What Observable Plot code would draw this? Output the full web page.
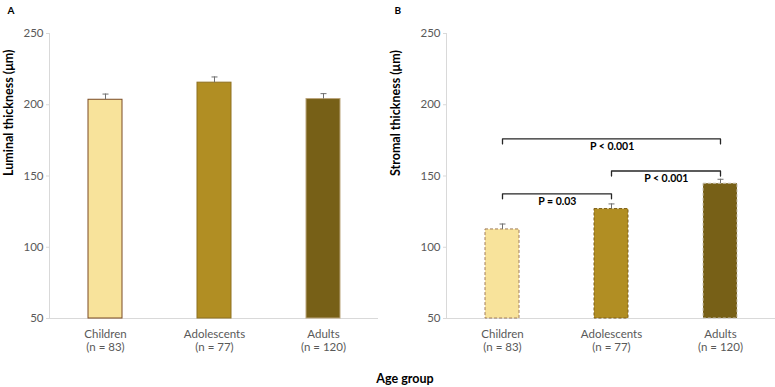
<!DOCTYPE html>
<html>
<head>
<meta charset="utf-8">
<script src="https://cdn.jsdelivr.net/npm/d3@7"></script>
<script src="https://cdn.jsdelivr.net/npm/@observablehq/plot@0.6"></script>
<style>
  body { margin: 0; background: #fff; font-family: Lato, "Open Sans", sans-serif; }
  #wrap { position: relative; width: 775px; height: 387px; }
  #left { position: absolute; left: 0; top: 0; }
  #right { position: absolute; left: 387px; top: 0; }
  #xtitle { position: absolute; left: 0; width: 810px; top: 371px; text-align: center;
            font-weight: bold; font-size: 12.5px; color: #000; }
</style>
</head>
<body>
<div id="wrap">
  <div id="left"></div>
  <div id="right"></div>
  <div id="xtitle">Age group</div>
</div>
<script>
// Age groups and sample sizes
const groups = ["Children", "Adolescents", "Adults"];
const counts = [83, 77, 120];

// Mean thickness (µm) and standard error per group
const luminalMean = [203.5, 215.5, 204];
const luminalSE = [4, 4, 3.8];
const stromalMean = [112.5, 126.8, 144.6];
const stromalSE = [3.8, 3.6, 3.1];

// Y axis ticks
const yTicks = [50, 100, 150, 200, 250];

// Pairwise comparisons for stromal thickness
const compFrom = ["Children", "Adolescents", "Children"];
const compTo = ["Adolescents", "Adults", "Adults"];
const compLevel = [137.5, 153.5, 176];
const compLabel = ["P = 0.03", "P < 0.001", "P < 0.001"];

// Palette
const fills = ["#F8E39B", "#B18E23", "#776017"];
const solidStrokes = ["#7A4B25", "#8E7020", "#BBA57C"];
const dashedStrokes = ["#A07C5C", "#7D5F1A", "#C9C2B4"];

const yMin = yTicks[0], yMax = yTicks[yTicks.length - 1];
const tickText = (g) => `${g}\n(n = ${counts[groups.indexOf(g)]})`;

// Small horizontal cap for the error bars
const capSymbol = {
  draw(ctx, size) {
    const w = Math.sqrt(size / Math.PI);
    ctx.moveTo(-w, 0);
    ctx.lineTo(w, 0);
  }
};

function panel({width, marginLeft, marginRight, means, ses, letter, yLabel, strokes, dashed, withComparisons}) {
  const rows = groups.map((g, i) => ({group: g, mean: means[i], top: means[i] + ses[i], fill: fills[i], stroke: strokes[i]}));
  const step = (width - marginLeft - marginRight) / groups.length;
  const marks = [
    Plot.ruleY([yMin], {stroke: "#D9D9D9", strokeWidth: 1}),
    Plot.frame({anchor: "left", stroke: "#D9D9D9"}),
    Plot.axisY({ticks: yTicks, tickSize: 3, tickPadding: 3, stroke: "#D9D9D9", color: "#595959", fontSize: 11.5, label: null}),
    Plot.axisX({tickSize: 0, tickPadding: 11, tickFormat: tickText, color: "#595959", fontSize: 11.5, label: null, lineHeight: 1.1}),
    Plot.barY(rows, {x: "group", y1: yMin, y2: "mean", fill: "fill", stroke: "stroke", strokeWidth: 1,
      strokeDasharray: dashed ? "3,2" : null}),
    Plot.ruleX(rows, {x: "group", y1: "mean", y2: "top", stroke: "#707070", strokeWidth: 1}),
    Plot.dot(rows, {x: "group", y: "top", symbol: capSymbol, r: 3, stroke: "#707070", strokeWidth: 1}),
    Plot.text([yLabel], {frameAnchor: "left", rotate: -90, dx: -(marginLeft - 8), fontWeight: "bold", fontSize: 12.5, fill: "#000"}),
    Plot.text([letter], {frameAnchor: "top-left", dx: -(marginLeft - 7), dy: -27, fontWeight: "bold", fontSize: 10, fill: "#000"})
  ];
  if (withComparisons) {
    const drop = 3.5;
    const pts = [];
    compFrom.forEach((f, i) => {
      pts.push({k: i, x: f, y: compLevel[i] - drop});
      pts.push({k: i, x: f, y: compLevel[i]});
      pts.push({k: i, x: compTo[i], y: compLevel[i]});
      pts.push({k: i, x: compTo[i], y: compLevel[i] - drop});
    });
    marks.push(Plot.line(pts, {x: "x", y: "y", z: "k", stroke: "#262626", strokeWidth: 1.3}));
    compFrom.forEach((f, i) => {
      const span = groups.indexOf(compTo[i]) - groups.indexOf(f);
      marks.push(Plot.text([{x: f, y: compLevel[i], t: compLabel[i]}], {
        x: "x", y: "y", text: "t", dx: span * step / 2, dy: 8,
        fontWeight: "bold", fontSize: 10.5, fill: "#000"
      }));
    });
  }
  return Plot.plot({
    width, height: 365,
    marginLeft, marginRight, marginTop: 33, marginBottom: 47,
    style: {fontFamily: "Lato, 'Open Sans', sans-serif", background: "transparent"},
    x: {domain: groups, paddingInner: 0.69, paddingOuter: 0.345, axis: null},
    y: {domain: [yMin, yMax], axis: null},
    marks
  });
}

document.getElementById("left").appendChild(panel({
  width: 387, marginLeft: 49, marginRight: 9,
  means: luminalMean, ses: luminalSE, letter: "A", yLabel: "Luminal thickness (μm)",
  strokes: solidStrokes, dashed: false, withComparisons: false
}));
document.getElementById("right").appendChild(panel({
  width: 388, marginLeft: 59, marginRight: 0,
  means: stromalMean, ses: stromalSE, letter: "B", yLabel: "Stromal thickness (μm)",
  strokes: dashedStrokes, dashed: true, withComparisons: true
}));
</script>
</body>
</html>
